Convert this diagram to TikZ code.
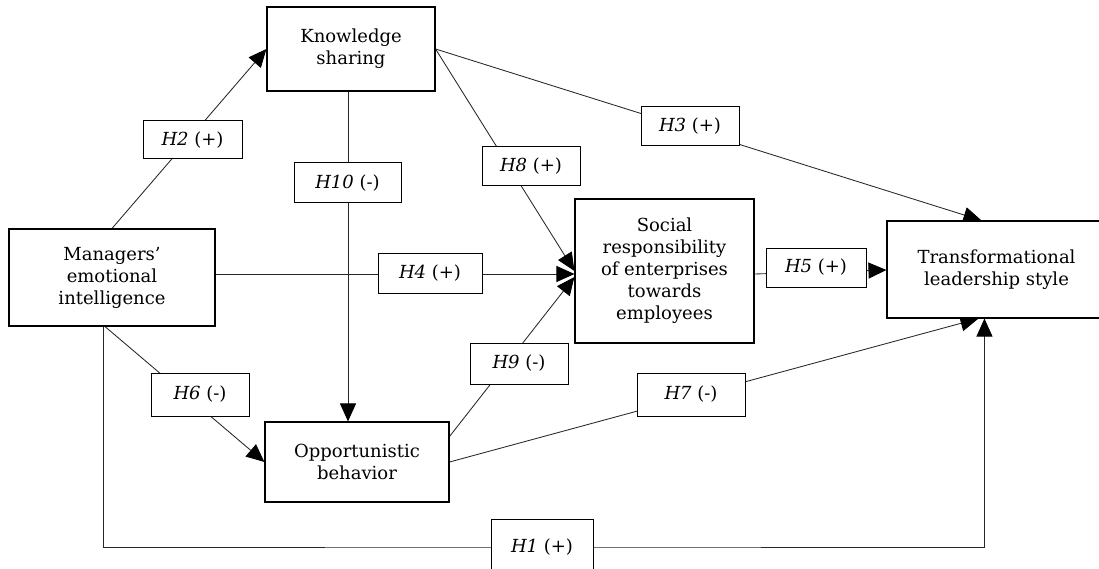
\documentclass[tikz,border=0pt]{standalone}
\usepackage{fontspec}
\setmainfont{DejaVu Serif}
\usetikzlibrary{arrows.meta,calc}
\pgfdeclarelayer{bg}
\pgfsetlayers{bg,main}
\begin{document}
\begin{tikzpicture}[x=1pt,y=-1pt,
  box/.style={draw=black,line width=1.1pt,fill=white,inner sep=0pt,align=center,font=\fontsize{18}{22}\selectfont},
  lbl/.style={draw=black,line width=1pt,fill=white,inner sep=0pt,align=center,font=\fontsize{18}{22}\selectfont},
  conn/.style={draw=black!85,line width=0.85pt},
  arr/.style={conn,-{Triangle[length=18pt,width=16pt,color=black]}}]
\useasboundingbox (0,0) rectangle (1099,569);
% main boxes
\node[box,minimum width=168pt,minimum height=84pt] (kno) at (351,49) {Knowledge\\sharing};
\node[box,minimum width=206pt,minimum height=97pt] (man) at (112,277.5) {Managers’\\emotional\\intelligence};
\node[box,minimum width=179pt,minimum height=144pt] (soc) at (664.5,271) {Social\\responsibility\\of enterprises\\towards\\employees};
\node[box,minimum width=184pt,minimum height=80pt] (opp) at (357,462) {Opportunistic\\behavior};
\node[box,minimum width=219pt,minimum height=97pt] (tra) at (996.5,269.5) {Transformational\\leadership style};
% labels
\node[lbl,minimum width=99pt,minimum height=38pt] (h2) at (192.5,140) {\textit{H2} (+)};
\node[lbl,minimum width=107pt,minimum height=40pt] (h10) at (347.5,183) {\textit{H10} (-)};
\node[lbl,minimum width=104pt,minimum height=40pt] (h4) at (430,273) {\textit{H4} (+)};
\node[lbl,minimum width=98pt,minimum height=39pt] (h3) at (690,126.5) {\textit{H3} (+)};
\node[lbl,minimum width=98pt,minimum height=39pt] (h8) at (531,166.5) {\textit{H8} (+)};
\node[lbl,minimum width=100pt,minimum height=39pt] (h5) at (816,267.5) {\textit{H5} (+)};
\node[lbl,minimum width=98pt,minimum height=41pt] (h9) at (519,363.5) {\textit{H9} (-)};
\node[lbl,minimum width=98pt,minimum height=43pt] (h6) at (200,394.5) {\textit{H6} (-)};
\node[lbl,minimum width=108pt,minimum height=43pt] (h7) at (691,394.5) {\textit{H7} (-)};
\node[lbl,minimum width=102pt,minimum height=56pt] (h1) at (542,547) {\textit{H1} (+)};
% connectors
\begin{pgfonlayer}{bg}
\coordinate (t3) at ($(tra.north west)+(95,0)$);
\coordinate (s8) at ($(soc.west)+(0,0)$);
\coordinate (s4) at ($(soc.west)+(0,3)$);
\coordinate (s9) at ($(soc.west)+(0,6)$);
\coordinate (o9) at ($(opp.north east)+(0,15)$);
\coordinate (t7) at ($(tra.south west)+(92,0)$);
\coordinate (t1) at ($(tra.south west)+(98,0)$);
\draw[arr] (man.north) -- (kno.west);
\draw[arr] (kno.east) -- (t3);
\draw[arr] (kno.east) -- (s8);
\draw[arr] (man.east |- s4) -- (s4);
\draw[arr] (o9) -- (s9);
\draw[arr] ($(soc.east)+(0,3)$) -- ($(tra.west)+(0,0.5)$);
\draw[arr] ($(kno.south)+(-3,0)$) -- ($(opp.north)+(-9,0)$);
\draw[arr] ($(man.south)+(-7,0)$) -- (opp.west);
\draw[arr] (opp.east) -- (t7);
\draw[arr] ($(man.south)+(-9,0)$) |- (h1.center) -| (t1);
\end{pgfonlayer}
\end{tikzpicture}
\end{document}
